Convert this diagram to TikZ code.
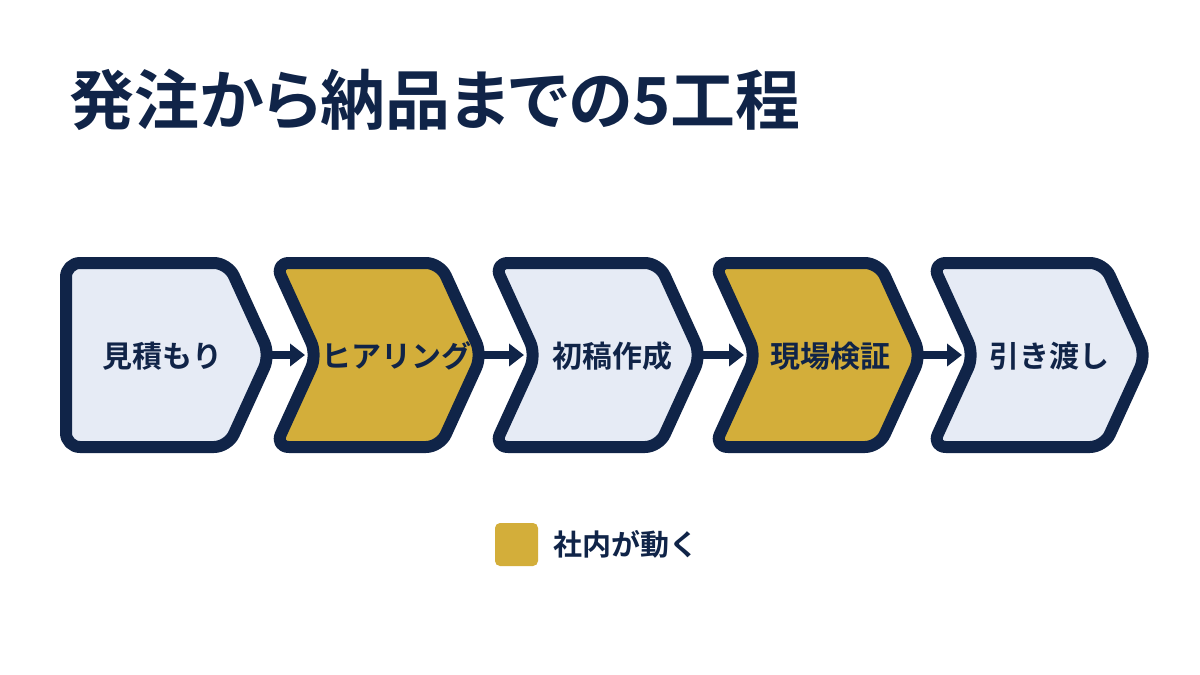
\documentclass[tikz,border=0pt]{standalone}
\usepackage{fontspec}
\setmainfont{Noto Sans CJK JP}[BoldFont={Noto Sans CJK JP Bold}]
\newfontfamily\titlefont{Noto Sans CJK JP Bold}[RawFeature={+palt}]
\usetikzlibrary{arrows.meta}
\definecolor{navy}{HTML}{102448}
\definecolor{gold}{HTML}{D3AE3A}
\definecolor{pale}{HTML}{E6EBF5}

\begin{document}
\begin{tikzpicture}[x=1pt, y=-1pt,
    chev/.style={draw=navy, line width=12pt, rounded corners=14pt, line join=round},
    steptext/.style={text=navy, font=\bfseries\fontsize{30}{30}\selectfont, inner sep=0pt},
    flow/.style={navy, line width=8pt, -{Triangle[length=15pt, width=22pt]}, shorten >=12pt}]
  \fill[white] (0, 0) rectangle (1200, 675);
  \useasboundingbox (0, 0) rectangle (1200, 675);

  \node[anchor=base west, text=navy, inner sep=0pt, font=\titlefont\fontsize{65}{65}\selectfont] (title) at (69, 124) {発注から納品までの5工程};

  % five steps
  \draw[chev, fill=pale] (150, 263) -- (228, 263) -- (270, 355) coordinate (t1) -- (228, 447) -- (66, 447) -- (66, 263) -- cycle;
  \draw[chev, fill=gold] (350, 263) -- (440, 263) -- (482, 355) coordinate (t2) -- (440, 447) -- (275, 447) -- (317, 355) coordinate (n2) -- (275, 263) -- cycle;
  \draw[chev, fill=pale] (570, 263) -- (659, 263) -- (701, 355) coordinate (t3) -- (659, 447) -- (494, 447) -- (536, 355) coordinate (n3) -- (494, 263) -- cycle;
  \draw[chev, fill=gold] (790, 263) -- (879, 263) -- (921, 355) coordinate (t4) -- (879, 447) -- (714, 447) -- (756, 355) coordinate (n4) -- (714, 263) -- cycle;
  \draw[chev, fill=pale] (1010, 263) -- (1104, 263) -- (1146, 355) coordinate (t5) -- (1104, 447) -- (932, 447) -- (974, 355) coordinate (n5) -- (932, 263) -- cycle;

  \draw[flow] (t1) -- (n2);
  \draw[flow] (t2) -- (n3);
  \draw[flow] (t3) -- (n4);
  \draw[flow] (t4) -- (n5);

  \node[steptext] (s1) at (162, 356) {見積もり};
  \node[steptext] (s2) at (396, 356) {ヒアリング};
  \node[steptext] (s3) at (612, 356) {初稿作成};
  \node[steptext] (s4) at (830, 356) {現場検証};
  \node[steptext] (s5) at (1049, 356) {引き渡し};

  % legend
  \node[fill=gold, rounded corners=5pt, minimum size=43pt, inner sep=0pt] (key) at (516.5, 544.5) {};
  \node[steptext, anchor=west, font=\bfseries\fontsize{29}{29}\selectfont] (keytext) at (553, 544) {社内が動く};
\end{tikzpicture}
\end{document}
